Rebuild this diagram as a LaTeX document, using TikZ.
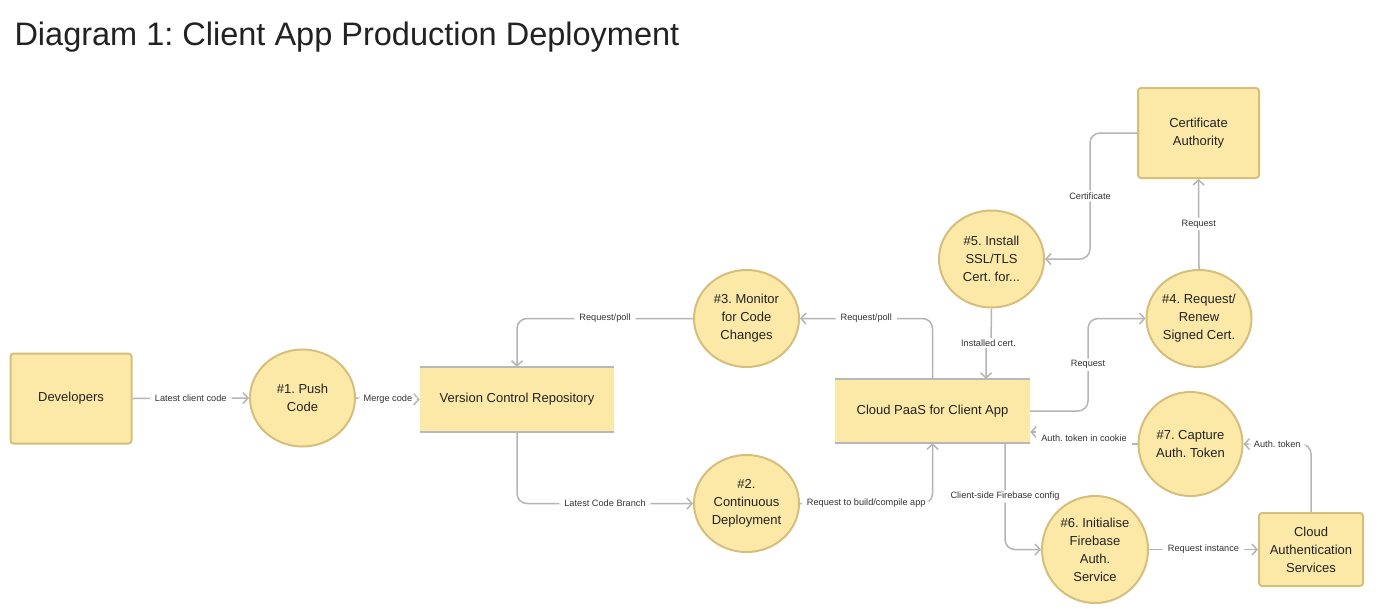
\documentclass[tikz,border=0pt]{standalone}
\usepackage{fontspec}
\setmainfont{Liberation Sans}
\usetikzlibrary{arrows.meta,shapes.geometric}
\definecolor{procfill}{HTML}{FCE9A8}
\definecolor{procdraw}{HTML}{D6BF7C}
\definecolor{linegrey}{HTML}{B5B5B5}
\definecolor{storeline}{HTML}{B8B8B8}
\definecolor{txt}{HTML}{222222}
\definecolor{lbl}{HTML}{333333}
\frenchspacing
\begin{document}
\begin{tikzpicture}[x=1pt,y=-1pt,
  nodefont/.style={font=\fontsize{13}{18}\selectfont, text=txt},
  ent/.style={nodefont, draw=procdraw, fill=procfill, line width=2pt, rounded corners=3pt, inner sep=0pt, align=center},
  proc/.style={nodefont, ellipse, draw=procdraw, fill=procfill, line width=2pt, inner sep=0pt, minimum width=105pt, minimum height=97pt, align=center},
  store/.style={nodefont, fill=procfill, inner sep=0pt, align=center},
  storeedge/.style={draw=storeline, line width=2pt},
  flow/.style={draw=linegrey, line width=1.5pt, -{Straight Barb[length=5pt,width=11pt,line width=1.5pt]}, rounded corners=10pt},
  jogflow/.style={flow, sharp corners},
  lab/.style={fill=white, inner xsep=5pt, inner ysep=2pt, font=\fontsize{9.2}{10}\selectfont, text=lbl},
  joglab/.style={lab, inner ysep=4.5pt}
]
\useasboundingbox (0,0) rectangle (1386,608);
\fill[white] (0,0) rectangle (1386,608);

\node[anchor=west, font=\fontsize{32.5}{38}\selectfont, text=txt] (title) at (11,37.5) {Diagram 1: Client App Production Deployment};

% entities
\node[ent, minimum width=121pt, minimum height=90pt] (dev) at (71,398.5) {Developers};
\node[ent, minimum width=121pt, minimum height=90pt] (ca) at (1198.5,133) {Certificate\\Authority};
\node[ent, minimum width=104pt, minimum height=73pt] (cas) at (1311,549.5) {Cloud\\Authentication\\Services};

% stores
\node[store, minimum width=194pt, minimum height=65pt] (vcr) at (517,399.5) {Version Control Repository};
\draw[storeedge] (vcr.north west) -- (vcr.north east) (vcr.south west) -- (vcr.south east);
\node[store, minimum width=195pt, minimum height=64pt] (paas) at (932.5,411) {Cloud PaaS for Client App};
\draw[storeedge] (paas.north west) -- (paas.north east) (paas.south west) -- (paas.south east);

% processes
\node[proc] (p1) at (302.5,398) {\#1. Push\\Code};
\node[proc] (p3) at (746.5,318.5) {\#3. Monitor\\for Code\\Changes};
\node[proc] (p2) at (746.5,503.5) {\#2.\\Continuous\\Deployment};
\node[proc] (p5) at (991.5,259) {\#5. Install\\SSL/TLS\\Cert. for...};
\node[proc] (p4) at (1199,318.5) {\#4. Request/\\Renew\\Signed Cert.};
\node[proc, minimum width=104pt, minimum height=104pt] (p7) at (1190.5,444) {\#7. Capture\\Auth. Token};
\node[proc, minimum width=106pt, minimum height=107pt] (p6) at (1095,549.5) {\#6. Initialise\\Firebase\\Auth.\\Service};

% flows
\draw[flow] (dev.east) -- node[lab] {Latest client code} (p1.west);
\draw[flow] (p1.east) -- node[lab] {Merge code} (vcr.west);
\draw[flow] (p3.west) -| node[lab, pos=0.25] {Request/poll} (vcr.north);
\draw[flow] (vcr.south) |- node[lab, pos=0.75] {Latest Code Branch} (p2.west);
\draw[flow] (paas.north) |- node[lab, pos=0.75] {Request/poll} (p3.east);
\draw[flow] (p2.east) -| node[lab, pos=0.25] {Request to build/compile app} (paas.south);
\draw[jogflow] (p5.south) -- (991,343) -- node[lab] {Installed cert.} (986,343) -- (986,0 |- paas.north);
\draw[flow] (paas.east) -- (1088,411) -- node[lab] {Request} (1088,318.5) -- (p4.west);
\draw[flow] (p4.north) -- node[lab] {Request} (ca.south);
\draw[flow] (ca.west) -- (1090,133) -- node[lab] {Certificate} (1090,259) -- (p5.east);
\draw[jogflow] (p7.west) -- (1084,444) -- node[joglab] {Auth. token in cookie} (1084,432) -- (paas.east |- 0,432);
\draw[flow] (cas.north) |- node[lab, pos=0.75] {Auth. token} (p7.east);
\draw[flow] (paas.south -| 1005,0) |- node[lab, pos=0.25] {Client-side Firebase config} (p6.west);
\draw[flow] (p6.east) -- node[lab] {Request instance} (cas.west);
\end{tikzpicture}
\end{document}
